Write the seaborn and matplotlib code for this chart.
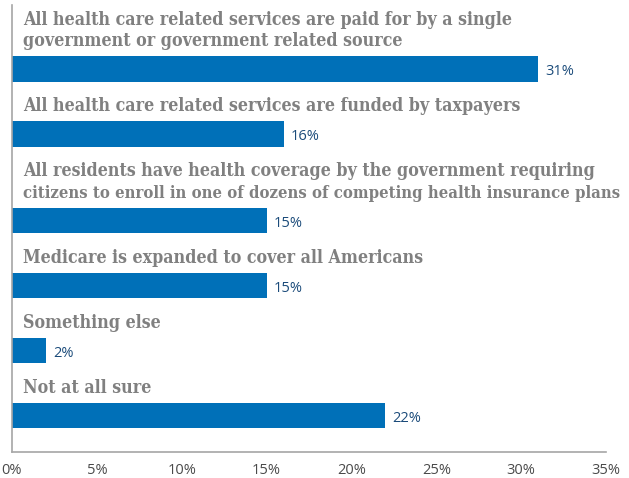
import matplotlib
matplotlib.use("Agg")
import matplotlib.pyplot as plt
import seaborn as sns
import pandas as pd

# Survey answers (label text wraps where the printed label wraps)
categories = [
    "All health care related services are paid for by a single\ngovernment or government related source",
    "All health care related services are funded by taxpayers",
    "All residents have health coverage by the government requiring\ncitizens to enroll in one of dozens of competing health insurance plans",
    "Medicare is expanded to cover all Americans",
    "Something else",
    "Not at all sure",
]
values = [31, 16, 15, 15, 2, 22]
tick_values = [0, 5, 10, 15, 20, 25, 30, 35]
tick_labels = [f"{v}%" for v in tick_values]

BAR_BLUE = "#0070b8"
LABEL_GREY = "#808080"
VALUE_BLUE = "#1b4b7a"
AXIS_GREY = "#a6a6a6"

sns.set_theme(style="white")

fig = plt.figure(figsize=(6.29, 4.78), dpi=100)
ax = fig.add_axes([12 / 629, 26 / 478, 594 / 629, 447 / 478])

# Each row gets one slot, plus a bit more room for every extra label line
extra_lines = [c.count("\n") for c in categories]
positions = []
for i in range(len(categories)):
    positions.append(0.73 + i + 0.33 * sum(extra_lines[: i + 1]))

df = pd.DataFrame({"category": categories, "value": values, "pos": positions})

bar_width = 0.39
sns.barplot(
    data=df, x="value", y="pos", orient="h", native_scale=True,
    width=bar_width, color=BAR_BLUE, saturation=1, linewidth=0, ax=ax,
)

ax.set_xlim(0, 35)
ax.set_ylim(6.955, 0.077)

renderer = fig.canvas.get_renderer()
max_right = 618  # keep label lines inside the figure (pixels)
label_size = 12.8
line_step = 21.5  # pixels between label lines

for cat, val, pos in zip(df["category"], df["value"], df["pos"]):
    lines = cat.split("\n")
    # label lines sit above the bar, the last line closest to it
    for k, line in enumerate(reversed(lines)):
        t = ax.annotate(
            line, xy=(0, pos - bar_width / 2), xytext=(11, 10 + k * line_step),
            textcoords="offset pixels", ha="left", va="baseline",
            fontsize=label_size, fontweight="bold", family="DejaVu Serif",
            fontstretch="condensed", color=LABEL_GREY,
        )
        bb = t.get_window_extent(renderer)
        if bb.x1 > max_right:
            t.set_fontsize(label_size * (max_right - bb.x0) / bb.width)
    ax.annotate(
        f"{val}%", xy=(val, pos), xytext=(7, -3),
        textcoords="offset pixels", ha="left", va="center",
        fontsize=10.5, family="Open Sans", color=VALUE_BLUE,
    )

ax.set_xticks(tick_values)
ax.set_xticklabels(tick_labels, fontsize=10.5, family="Open Sans", color="#4a4a4a")
ax.set_yticks([])
ax.set_xlabel("")
ax.set_ylabel("")
ax.tick_params(axis="x", direction="in", length=6.5, width=1, color=AXIS_GREY, pad=8)

for side in ["top", "right"]:
    ax.spines[side].set_visible(False)
for side in ["left", "bottom"]:
    ax.spines[side].set_color(AXIS_GREY)
    ax.spines[side].set_linewidth(1.2)

fig.savefig("out.png", dpi=100)
